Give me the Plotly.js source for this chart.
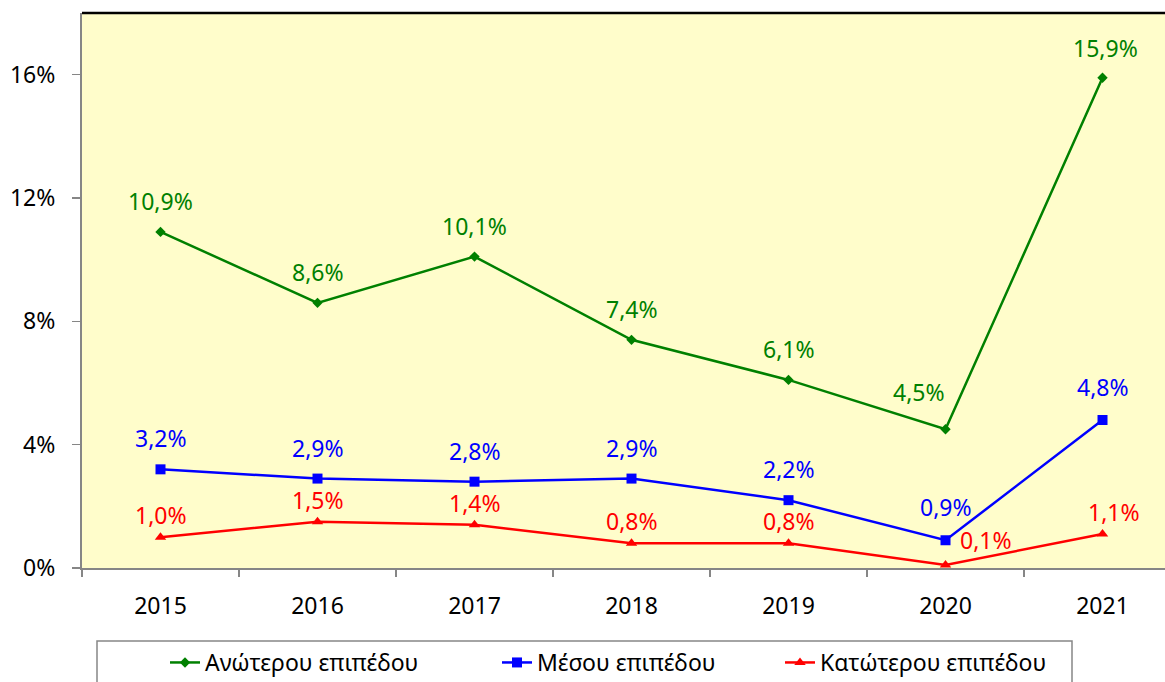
<!DOCTYPE html>
<html><head><meta charset="utf-8">
<script src="https://cdn.plot.ly/plotly-3.0.1.min.js"></script>
<style>html,body{margin:0;padding:0;background:#fff}#c{width:1165px;height:682px}</style>
</head><body><div id="c"></div>
<script>
const years = ['2015','2016','2017','2018','2019','2020','2021'];
const upper = [10.9, 8.6, 10.1, 7.4, 6.1, 4.5, 15.9];
const middle = [3.2, 2.9, 2.8, 2.9, 2.2, 0.9, 4.8];
const lower = [1.0, 1.5, 1.4, 0.8, 0.8, 0.1, 1.1];
const names = ['Ανώτερου επιπέδου', 'Μέσου επιπέδου', 'Κατώτερου επιπέδου'];
const yTicks = [0, 4, 8, 12, 16];

const FONT = 'Noto Sans, Open Sans, sans-serif';
const FS = 23;
const idx = years.map((_, i) => i);
const colors = ['#008000', '#0000FF', '#FF0000'];
const symbols = ['diamond', 'square', 'triangle-up'];
const msizes = [8, 10, 10];
const series = [upper, middle, lower];
const legendIds = ['legend', 'legend2', 'legend3'];
const legendTextX = [210, 542, 825];

const traces = series.map((s, k) => ({
  x: idx, y: s, type: 'scatter', mode: 'lines+markers', name: names[k],
  legend: legendIds[k],
  line: {color: colors[k], width: 2.5},
  marker: {color: colors[k], symbol: symbols[k], size: msizes[k]},
  hoverinfo: 'skip'
}));

const fmt = v => v.toFixed(1).replace('.', ',') + '%';
// label placement (pixel offsets from the marker)
const yshifts = [31, 31, 22];
const special = {'0-5': [-27, 37], '0-6': [3, 30], '1-5': [0, 33], '1-6': [0, 33],
                 '2-5': [40, 25], '2-6': [11, 22]};
const annotations = [];
series.forEach((s, k) => {
  s.forEach((v, i) => {
    let xs = 0, ys = yshifts[k];
    const sp = special[k + '-' + i];
    if (sp) { xs = sp[0]; ys = sp[1]; }
    annotations.push({x: i, y: v, xref: 'x', yref: 'y', text: fmt(v), showarrow: false,
      xshift: xs, yshift: ys, font: {family: FONT, size: FS, color: colors[k]}});
  });
});

const xr = [-0.5, 6.398];
const layout = {
  width: 1165, height: 682,
  margin: {l: 82, r: 0, t: 13, b: 114},
  paper_bgcolor: '#ffffff', plot_bgcolor: '#FFFDCB',
  font: {family: FONT, size: FS, color: '#000'},
  showlegend: true,
  xaxis: {range: xr, tickvals: idx, ticktext: years, ticks: '', showgrid: false, zeroline: false,
    showline: true, linecolor: '#868686', linewidth: 2, ticklabelstandoff: 16,
    tickfont: {family: FONT, size: FS, color: '#000'}},
  xaxis2: {range: xr, overlaying: 'x', anchor: 'y', side: 'bottom',
    tickvals: [-0.5, 0.5, 1.5, 2.5, 3.5, 4.5, 5.5, 6.5], showticklabels: false,
    ticks: 'outside', ticklen: 8, tickwidth: 1.5, tickcolor: '#868686', showgrid: false, zeroline: false},
  yaxis: {range: [0, 18], tickvals: yTicks, ticktext: yTicks.map(v => v + '%'), ticks: 'outside',
    ticklen: 8, tickwidth: 1.5, tickcolor: '#868686', showgrid: false, zeroline: false,
    showline: true, linecolor: '#868686', linewidth: 2, ticklabelstandoff: 12,
    tickfont: {family: FONT, size: FS, color: '#000'}},
  shapes: [
    {type: 'line', xref: 'paper', yref: 'paper', x0: 0, x1: 1, y0: 1, y1: 1,
      line: {color: '#000', width: 2.5}},
    {type: 'rect', xref: 'paper', yref: 'paper', x0: (97 - 82) / 1083, x1: (1072 - 82) / 1083,
      y0: -(641 - 568) / 555, y1: -(700 - 568) / 555, line: {color: '#868686', width: 1.5},
      fillcolor: 'rgba(0,0,0,0)'}
  ],
  annotations: annotations
};
legendIds.forEach((id, k) => {
  layout[id] = {orientation: 'h', xref: 'container', yref: 'container',
    x: (legendTextX[k] - 45) / 1165, y: 1 - 641 / 682, xanchor: 'left', yanchor: 'top',
    bgcolor: 'rgba(0,0,0,0)', borderwidth: 0,
    font: {family: FONT, size: FS, color: '#000'}};
});
traces.push({x: [0], y: [null], xaxis: 'x2', yaxis: 'y', showlegend: false, mode: 'lines', hoverinfo: 'skip'});
Plotly.newPlot('c', traces, layout, {displayModeBar: false, staticPlot: true});
</script></body></html>
